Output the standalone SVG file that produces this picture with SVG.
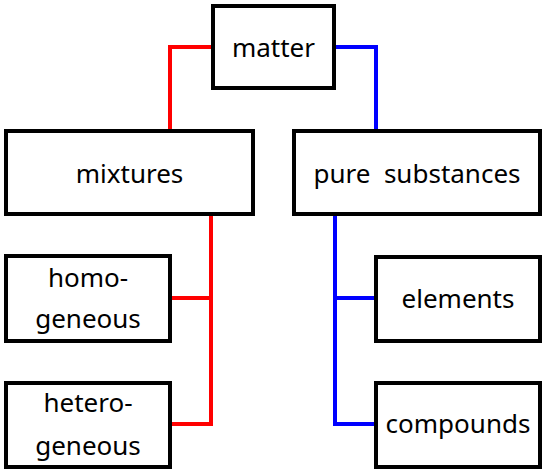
<svg xmlns="http://www.w3.org/2000/svg" width="547" height="473" viewBox="0 0 547 473">
<style>
.box{fill:#fff;stroke:#000;stroke-width:4}
.t{font-family:"Noto Sans","Liberation Sans",sans-serif;font-size:26px;fill:#000;text-anchor:middle;white-space:pre}
.red{fill:none;stroke:#f00;stroke-width:4}
.blue{fill:none;stroke:#00f;stroke-width:4}
</style>
<rect width="547" height="473" fill="#fff"/>
<g id="connectors">
<polyline class="red" points="213,47 170,47 170,131"/>
<polyline class="blue" points="334,47 376,47 376,131"/>
<polyline class="red" points="211,214 211,424 170,424"/>
<line class="red" x1="211" y1="298" x2="170" y2="298"/>
<polyline class="blue" points="335,214 335,424 376,424"/>
<line class="blue" x1="335" y1="298" x2="376" y2="298"/>
</g>
<g id="matter"><rect class="box" x="213" y="6" width="121" height="82"/><text class="t" x="273.5" y="57">matter</text></g>
<g id="mixtures"><rect class="box" x="6" y="131" width="247" height="83"/><text class="t" x="129.5" y="182.5">mixtures</text></g>
<g id="pure"><rect class="box" x="294" y="131" width="246" height="83"/><text class="t" x="417" y="182.5">pure  substances</text></g>
<g id="homo"><rect class="box" x="6" y="256" width="164" height="85"/><text class="t" x="88" y="287">homo-</text><text class="t" x="88" y="328">geneous</text></g>
<g id="hetero"><rect class="box" x="6" y="383" width="164" height="84"/><text class="t" x="88" y="412">hetero-</text><text class="t" x="88" y="455">geneous</text></g>
<g id="elements"><rect class="box" x="376" y="257" width="164" height="84"/><text class="t" x="458" y="308">elements</text></g>
<g id="compounds"><rect class="box" x="376" y="383" width="164" height="84"/><text class="t" x="458" y="433">compounds</text></g>
</svg>
